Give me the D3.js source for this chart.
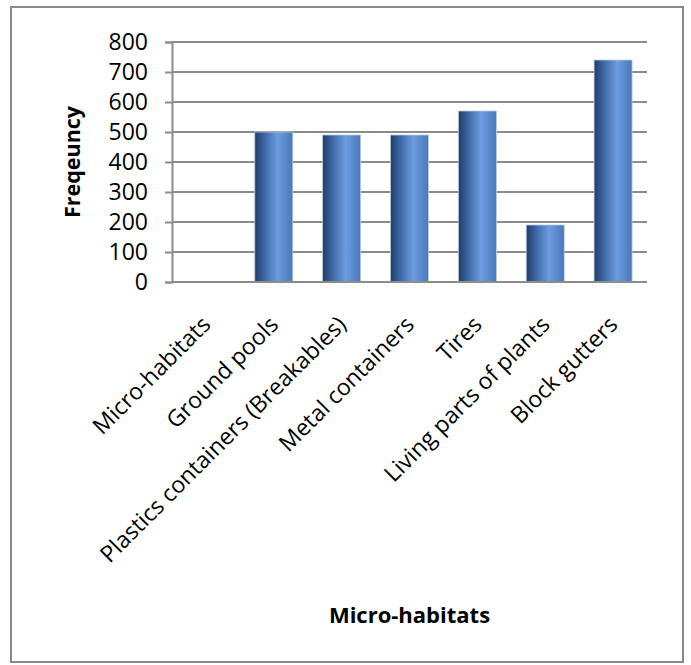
<!DOCTYPE html>
<html>
<head>
<meta charset="utf-8">
<script src="https://cdn.jsdelivr.net/npm/d3@7"></script>
<style>
  body { margin: 0; background: #fff; }
  svg { display: block; font-family: "Open Sans", "Noto Sans", sans-serif; }
</style>
</head>
<body>
<div id="chart"></div>
<script>
// data
var categories = ['Micro-habitats', 'Ground pools', 'Plastics containers (Breakables)',
  'Metal containers', 'Tires', 'Living parts of plants', 'Block gutters'];
var frequency = [0, 500, 490, 490, 570, 190, 740];
var yTicks = [0, 100, 200, 300, 400, 500, 600, 700, 800];

var W = 691, H = 665;
var margin = {top: 42, right: 44, bottom: 383, left: 172};
var w = W - margin.left - margin.right;
var h = H - margin.top - margin.bottom;

var svg = d3.select('#chart').append('svg')
  .attr('width', W)
  .attr('height', H);

// outer frame
svg.append('rect')
  .attr('x', 11).attr('y', 7)
  .attr('width', 672).attr('height', 655)
  .style('fill', '#fff')
  .style('stroke', '#8a8a8a')
  .style('stroke-width', 2);

var defs = svg.append('defs');
var grad = defs.append('linearGradient').attr('id', 'barGrad')
  .attr('x1', '0%').attr('x2', '100%').attr('y1', '0%').attr('y2', '0%');
grad.append('stop').attr('offset', '0%').attr('stop-color', '#213d66');
grad.append('stop').attr('offset', '25%').attr('stop-color', '#3d66a3');
grad.append('stop').attr('offset', '60%').attr('stop-color', '#6b9de0');
grad.append('stop').attr('offset', '100%').attr('stop-color', '#4a78b8');

var g = svg.append('g').attr('transform', 'translate(' + margin.left + ',' + margin.top + ')');

var x = d3.scaleBand().domain(categories).range([0, w]).paddingInner(0.44).paddingOuter(0.22);
var y = d3.scaleLinear().domain([0, 800]).range([h, 0]);

// gridlines
g.selectAll('.grid').data(yTicks).enter().append('line')
  .attr('x1', 0).attr('x2', w)
  .attr('y1', function(d){ return y(d); })
  .attr('y2', function(d){ return y(d); })
  .style('stroke', '#8c8c8c')
  .style('stroke-width', 2);

// bars
g.selectAll('.bar').data(frequency).enter().append('rect')
  .attr('x', function(d, i){ return x(categories[i]); })
  .attr('y', function(d){ return y(d); })
  .attr('width', x.bandwidth())
  .attr('height', function(d){ return h - y(d); })
  .style('fill', 'url(#barGrad)')
  .style('stroke', '#b9cbe6')
  .style('stroke-width', 0.8)
  .style('display', function(d){ return d > 0 ? null : 'none'; });

// y axis
var yAxis = g.append('g').call(d3.axisLeft(y).tickValues(yTicks).tickSize(7).tickPadding(17));
yAxis.select('.domain').style('stroke', '#8c8c8c').style('stroke-width', 2);
yAxis.selectAll('.tick line').style('stroke', '#8c8c8c').style('stroke-width', 2);
yAxis.selectAll('.tick text')
  .style('font-family', '"Open Sans", sans-serif')
  .style('font-size', '23px')
  .style('fill', '#000');

// x axis line
g.append('line')
  .attr('x1', 0).attr('x2', w)
  .attr('y1', h).attr('y2', h)
  .style('stroke', '#8c8c8c')
  .style('stroke-width', 2);

// category labels, rotated
g.selectAll('.cat').data(categories).enter().append('text')
  .attr('transform', function(d){
    var cx = x(d) + x.bandwidth() / 2;
    return 'translate(' + (cx + 6) + ',' + (h + 44) + ') rotate(-45)';
  })
  .attr('text-anchor', 'end')
  .style('font-size', '23px')
  .style('fill', '#000')
  .text(function(d){ return d; });

// axis titles
svg.append('text')
  .attr('transform', 'translate(80,' + (margin.top + h / 2) + ') rotate(-90)')
  .attr('text-anchor', 'middle')
  .style('font-size', '21.5px')
  .style('font-weight', 'bold')
  .text('Freqeuncy');

svg.append('text')
  .attr('x', margin.left + w / 2)
  .attr('y', 623)
  .attr('text-anchor', 'middle')
  .style('font-size', '22px')
  .style('font-weight', 'bold')
  .text('Micro-habitats');
</script>
</body>
</html>
